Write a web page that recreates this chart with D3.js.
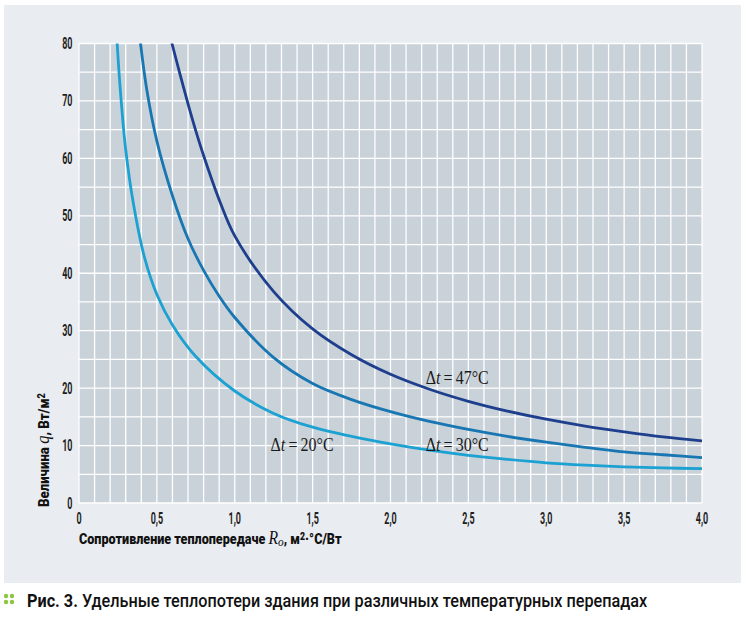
<!DOCTYPE html>
<html><head><meta charset="utf-8">
<script src="https://cdn.jsdelivr.net/npm/d3@7"></script>
<style>body{margin:0;background:#fff;} svg{display:block}</style>
</head><body>
<svg id="c" width="746" height="625"></svg>
<script>
// ---- data ----
const xTicks = [0, 0.5, 1, 1.5, 2, 2.5, 3, 3.5, 4];
const xTickLabels = ["0", "0,5", "1,0", "1,5", "2,0", "2,5", "3,0", "3,5", "4,0"];
const yTicks = [0, 10, 20, 30, 40, 50, 60, 70, 80];
const yTickLabels = ["0", "10", "20", "30", "40", "50", "60", "70", "80"];
const seriesNames = ["Δt = 20°C", "Δt = 30°C", "Δt = 47°C"];

const r20 = [0.245, 0.265, 0.30, 0.35, 0.42, 0.50, 0.60, 0.75, 1.0, 1.25, 1.5, 1.75, 2.0, 2.25, 2.5, 2.75, 3.0, 3.25, 3.5, 3.75, 4.0];
const q20 = [80, 72, 61.5, 52, 42.8, 36.3, 31, 25.5, 19.5, 15.6, 13.2, 11.6, 10.3, 9.2, 8.3, 7.6, 7.0, 6.6, 6.3, 6.1, 6.0];

const r30 = [0.395, 0.435, 0.50, 0.60, 0.70, 0.80, 0.90, 1.0, 1.25, 1.5, 1.75, 2.0, 2.25, 2.5, 2.75, 3.0, 3.25, 3.5, 3.75, 4.0];
const q30 = [80, 72, 63, 53.5, 46, 40.5, 36, 32.3, 25.3, 20.8, 18.0, 15.9, 14.2, 12.8, 11.6, 10.6, 9.7, 8.9, 8.4, 7.9];

const r47 = [0.597, 0.65, 0.70, 0.75, 0.80, 0.90, 1.0, 1.25, 1.5, 1.75, 2.0, 2.25, 2.5, 2.75, 3.0, 3.25, 3.5, 3.75, 4.0];
const q47 = [80, 74.5, 69.5, 64.8, 60.5, 52.8, 46.5, 36.8, 30.3, 25.8, 22.4, 19.8, 17.7, 16.0, 14.6, 13.4, 12.4, 11.5, 10.8];

const captionBold = "Рис. 3.";
const captionText = " Удельные теплопотери здания при различных температурных перепадах";

// ---- drawing ----
const svg = d3.select("#c");
const W = 746, H = 625;
const x = d3.scaleLinear().domain([0, 4]).range([79, 702]);
const y = d3.scaleLinear().domain([0, 80]).range([503, 43.5]);

svg.append("rect").attr("x", 0).attr("y", 0).attr("width", W).attr("height", H).attr("fill", "#ffffff");
svg.append("rect").attr("x", 4).attr("y", 5).attr("width", 737).attr("height", 578).attr("fill", "#e9ecf0");

// plot background
svg.append("rect").attr("x", x(0)).attr("y", y(80)).attr("width", x(4) - x(0)).attr("height", y(0) - y(80)).attr("fill", "#c9d1d9");

// grid
const g = svg.append("g");
g.selectAll("line.v").data(d3.range(0, 41)).join("line")
  .attr("x1", d => x(d / 10)).attr("x2", d => x(d / 10))
  .attr("y1", y(0)).attr("y2", y(80))
  .attr("stroke", "#ffffff").attr("stroke-width", 1.3);
g.selectAll("line.h").data(d3.range(0, 17)).join("line")
  .attr("y1", d => y(d * 5)).attr("y2", d => y(d * 5))
  .attr("x1", x(0)).attr("x2", x(4))
  .attr("stroke", "#ffffff").attr("stroke-width", 1.3);

// clip
svg.append("clipPath").attr("id", "clip").append("rect")
  .attr("x", x(0)).attr("y", y(80)).attr("width", x(4) - x(0)).attr("height", y(0) - y(80));

const line = d3.line().x(d => x(d[0])).y(d => y(d[1])).curve(d3.curveCatmullRom.alpha(0.5));
const series = [
  {r: r20, q: q20, color: "#1ba1d2"},
  {r: r30, q: q30, color: "#1876b2"},
  {r: r47, q: q47, color: "#1e3f8d"}
];
const cg = svg.append("g").attr("clip-path", "url(#clip)");
series.forEach(s => {
  cg.append("path").datum(s.r.map((r, i) => [r, s.q[i]]))
    .attr("d", line).attr("fill", "none").attr("stroke", s.color)
    .attr("stroke-width", 2.8).attr("stroke-linecap", "round");
});

// helper: fit a text to a target width by horizontal scaling
function fit(sel, tx, ty, target, rot) {
  const w = sel.node().getComputedTextLength();
  const s = target / w;
  sel.attr("transform", `translate(${tx},${ty})` + (rot ? ` rotate(${rot})` : "") + ` scale(${s},1)`);
}

// tick labels
const tickFont = "Roboto, 'Liberation Sans', sans-serif";
xTicks.forEach((t, i) => {
  svg.append("text").attr("transform", `translate(${x(t)},523.5) scale(0.56,1)`)
    .attr("text-anchor", "middle").attr("font-family", tickFont).attr("font-weight", 700)
    .attr("font-size", 16).attr("fill", "#1e1e1e").text(xTickLabels[i]);
});
yTicks.forEach((t, i) => {
  svg.append("text").attr("transform", `translate(72.5,${y(t) + 5.5}) scale(0.56,1)`)
    .attr("text-anchor", "end").attr("font-family", tickFont).attr("font-weight", 700)
    .attr("font-size", 16).attr("fill", "#1e1e1e").text(yTickLabels[i]);
});

// axis titles
const serif = "'Liberation Serif', 'DejaVu Serif', serif";
const xt = svg.append("text").attr("font-family", tickFont)
  .attr("font-weight", 900).attr("font-size", 14.5).attr("fill", "#111");
xt.append("tspan").text("Сопротивление теплопередаче ");
xt.append("tspan").attr("font-family", serif).attr("font-style", "italic").attr("font-weight", 400).attr("font-size", 18).text("R");
xt.append("tspan").attr("font-family", serif).attr("font-style", "italic").attr("font-weight", 400).attr("font-size", 13).attr("dy", 2).text("o");
xt.append("tspan").attr("dy", -2).text(", м");
xt.append("tspan").attr("font-size", 10).attr("dy", -4).text("2");
xt.append("tspan").attr("dy", 4).text("·°C/Вт");
fit(xt, 79, 544, 263);

const yt = svg.append("text")
  .attr("font-family", tickFont).attr("font-weight", 900).attr("font-size", 14.5).attr("fill", "#111");
yt.append("tspan").text("Величина ");
yt.append("tspan").attr("font-family", serif).attr("font-style", "italic").attr("font-weight", 400).attr("font-size", 18).text("q");
yt.append("tspan").text(", Вт/м");
yt.append("tspan").attr("font-size", 10).attr("dy", -4).text("2");
fit(yt, 49, 507, 114, -90);

// series annotations
const ann = [
  {i: 2, r: 2.226, q: 20.7},
  {i: 0, r: 1.23, q: 9.1},
  {i: 1, r: 2.226, q: 9.1}
];
ann.forEach(a => {
  const parts = seriesNames[a.i].split("t");
  const t = svg.append("text")
    .attr("font-family", serif).attr("font-size", 18)
    .attr("fill", "#1a1a1a");
  t.append("tspan").text(parts[0]);
  t.append("tspan").attr("font-style", "italic").text("t");
  t.append("tspan").text(parts[1].replace(/ /g, "\u2009"));
  fit(t, x(a.r), y(a.q), 63);
});

// caption
const dots = [[6, 596], [12, 596], [6, 602], [12, 602]];
svg.selectAll("circle.d").data(dots).join("circle")
  .attr("cx", d => d[0]).attr("cy", d => d[1]).attr("r", 2.2).attr("fill", "#8cc63f");
const cap = svg.append("text")
  .attr("font-family", tickFont).attr("font-size", 18).attr("fill", "#111");
cap.append("tspan").attr("font-weight", 700).text(captionBold);
cap.append("tspan").attr("font-weight", 500).text(captionText);
fit(cap, 27, 606.5, 621);
</script>
</body></html>
